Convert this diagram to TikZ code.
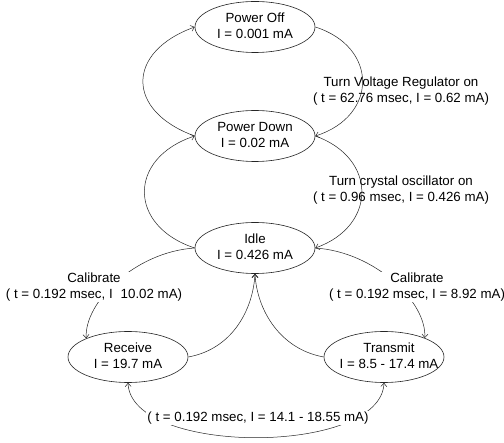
\documentclass[tikz,border=0pt]{standalone}
\usepackage{fontspec}
\setmainfont{Liberation Sans}
\usetikzlibrary{shapes.geometric,arrows.meta}
% two centred lines that do not widen the ellipse around them
\newcommand{\statetext}[3][0pt]{\makebox[0pt]{\hspace{#1}\begin{tabular}{@{}c@{}}#2\\#3\end{tabular}}}
\begin{document}
\begin{tikzpicture}[x=1pt,y=-1pt,
  txt/.style={font=\fontsize{13.3}{16}\selectfont},
  state/.style={txt,ellipse,draw=black!85,line width=0.6pt,minimum width=120pt,
    minimum height=51pt,inner sep=0pt},
  tip/.style={Straight Barb[length=3.5pt,width=6pt]},
  trans/.style={draw=black!85,line width=0.5pt,-{Straight Barb[length=3.5pt,width=6pt]}},
  note/.style={txt,align=center,inner sep=1pt},
  notebg/.style={note,fill=white}]
\useasboundingbox[fill=white] (0,0) rectangle (504,443);

% states
\node[state] (poff)  at (255,27)  {\statetext{Power Off}{I = 0.001 mA}};
\node[state] (pdown) at (255,136) {\statetext{Power Down}{I = 0.02 mA}};
\node[state] (idle)  at (255,248) {\statetext{Idle}{I = 0.426 mA}};
\node[state] (rec)   at (128,357) {\statetext{Receive}{I = 19.7 mA}};
\node[state] (tx)    at (384,357) {\statetext[10pt]{Transmit}{I = 8.5 - 17.4 mA}};

% labels that the transitions run across
\node[note] (volt) at (401,91)  {Turn Voltage Regulator on\\( t = 62.76 msec, I = 0.62 mA)};
\node[note] (xtal) at (401,190) {Turn crystal oscillator on\\( t = 0.96 msec, I = 0.426 mA)};

% transitions
\draw[trans] (pdown.west) .. controls +(-69,-25) and +(-69,25) .. (poff.west);
\draw[trans] (idle.west)  .. controls +(-67,-22) and +(-67,22) .. (pdown.west);
\draw[trans] (poff.east)  .. controls +(63,20)   and +(63,-20)  .. (pdown.east);
\draw[trans] (pdown.east) .. controls +(62,22)   and +(62,-22)  .. (idle.east);
\draw[trans] (idle.west)  .. controls +(-60,4)   and +(-2,-36)  .. (rec.156);
\draw[trans] (idle.east)  .. controls +(60,4)    and +(2,-36)   .. (tx.25);
\draw[trans] (rec.east)   .. controls +(44,-8)   and +(-2,36)   .. (idle.south);
\draw[trans] (tx.west)    .. controls +(-44,-8)  and +(2,36)    .. (idle.south);
\draw[trans,{Straight Barb[length=3.5pt,width=6pt]}-{Straight Barb[length=3.5pt,width=6pt]}]
  (rec.south) .. controls +(3,73) and +(-3,73) .. (tx.south);

% labels on white
\node[notebg] (calrx) at (94,287)  {Calibrate\\( t = 0.192 msec, I\hspace{8pt}10.02 mA)};
\node[notebg] (caltx) at (417,287) {Calibrate\\( t = 0.192 msec, I = 8.92 mA)};
\node[notebg] (rxtx)  at (258,418) {( t = 0.192 msec, I = 14.1 - 18.55 mA)};
\end{tikzpicture}
\end{document}
